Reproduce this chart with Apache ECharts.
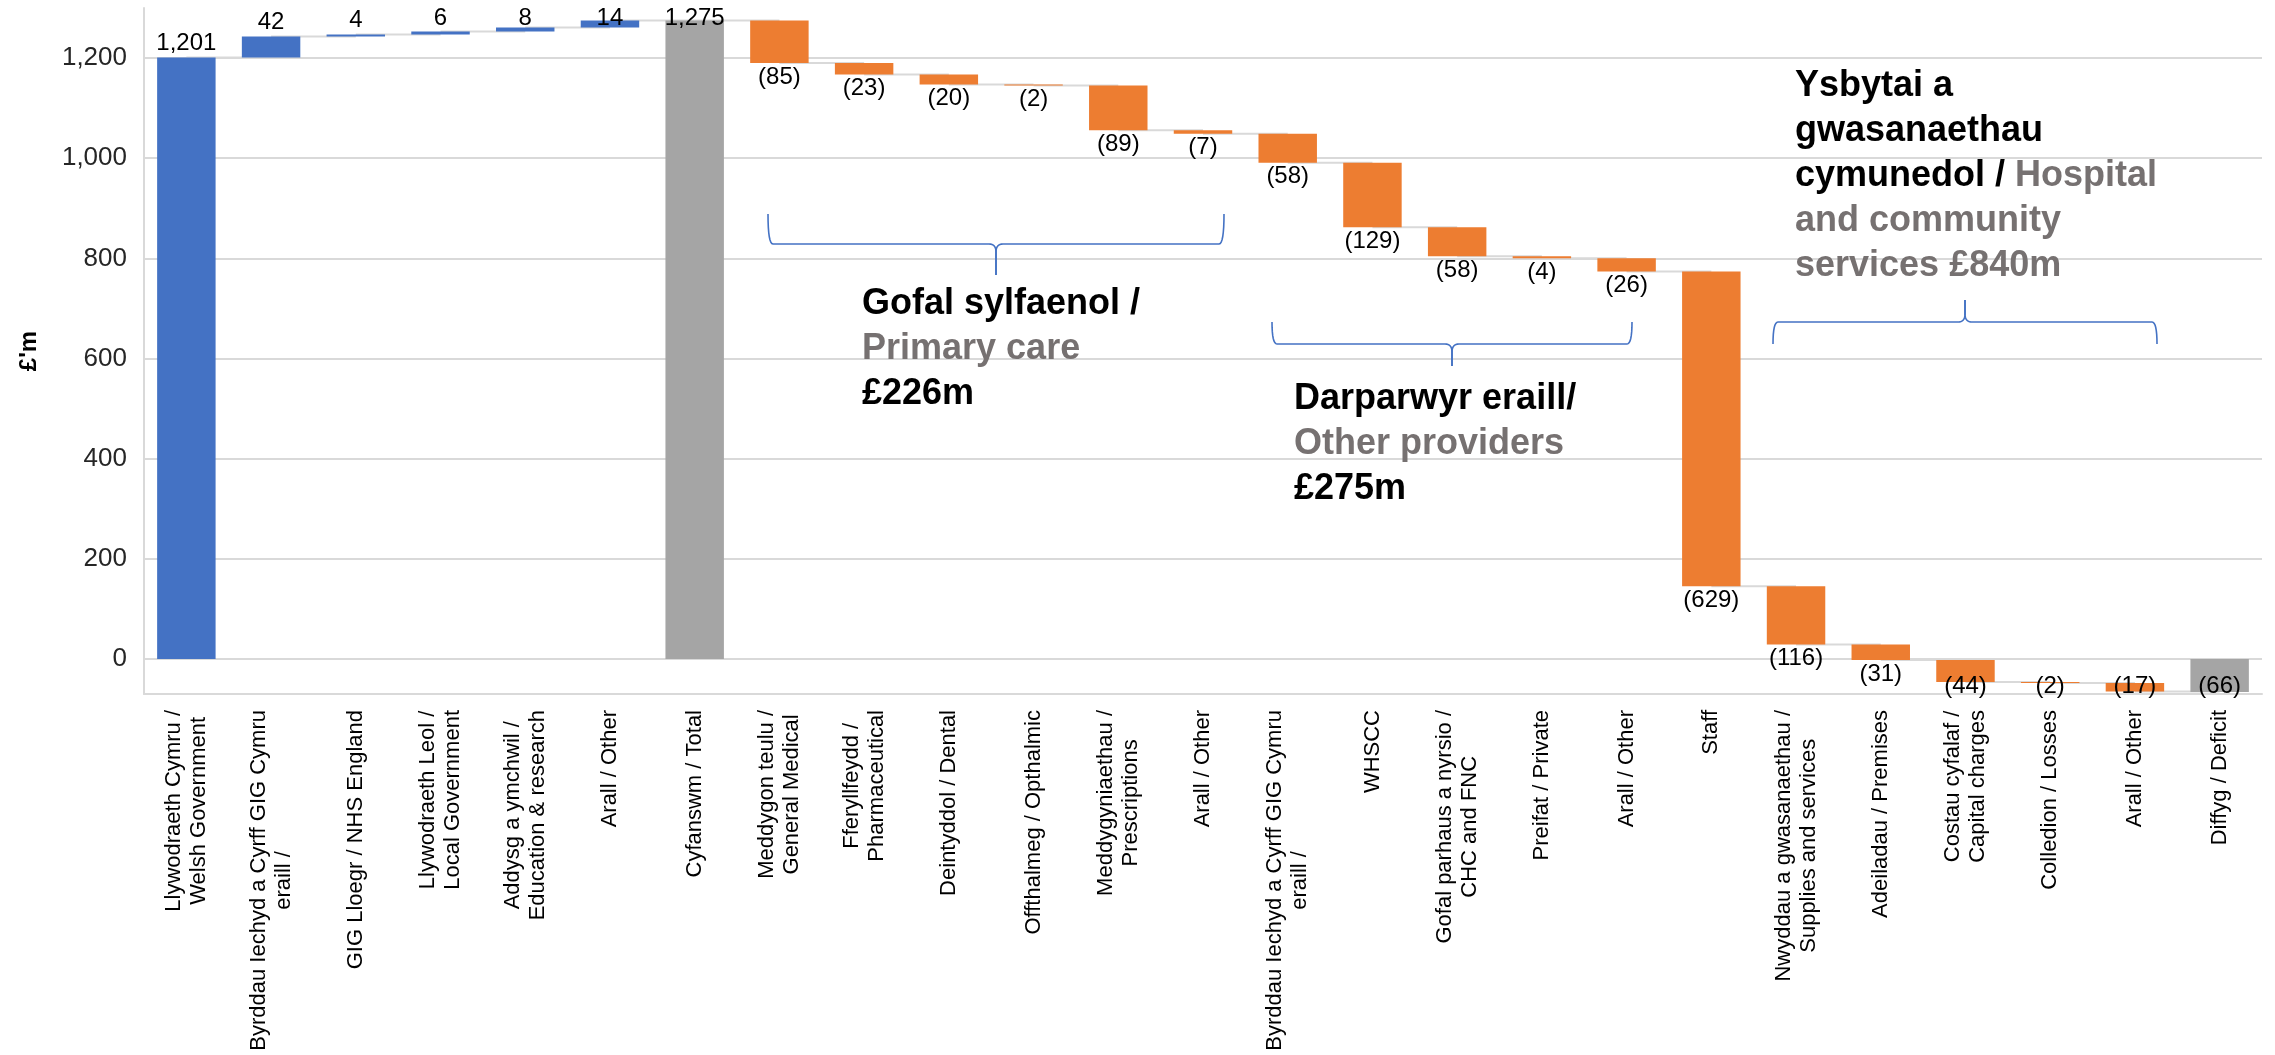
<!DOCTYPE html>
<html>
<head>
<meta charset="utf-8">
<title>Waterfall</title>
<script src="https://cdn.jsdelivr.net/npm/echarts@6/dist/echarts.min.js"></script>
<style>
    html, body { margin: 0; padding: 0; background: #fff; }
    #chart { width: 2275px; height: 1055px; }
</style>
</head>
<body>
<div id="chart"></div>
<script>
const categories = [
    'Llywodraeth Cymru /\nWelsh Government',
    'Byrddau Iechyd a Cyrff GIG Cymru\neraill /',
    'GIG Lloegr / NHS England',
    'Llywodraeth Leol /\nLocal Government',
    'Addysg a ymchwil /\nEducation & research',
    'Arall / Other',
    'Cyfanswm / Total',
    'Meddygon teulu /\nGeneral Medical',
    'Fferyllfeydd /\nPharmaceutical',
    'Deintyddol / Dental',
    'Offthalmeg / Opthalmic',
    'Meddygyniaethau /\nPrescriptions',
    'Arall / Other',
    'Byrddau Iechyd a Cyrff GIG Cymru\neraill /',
    'WHSCC',
    'Gofal parhaus a nyrsio /\nCHC and FNC',
    'Preifat / Private',
    'Arall / Other',
    'Staff',
    'Nwyddau a gwasanaethau /\nSupplies and services',
    'Adeiladau / Premises',
    'Costau cyfalaf /\nCapital charges',
    'Colledion / Losses',
    'Arall / Other',
    'Diffyg / Deficit'
];
const values = [1201, 42, 4, 6, 8, 14, 1275, -85, -23, -20, -2, -89, -7,
    -58, -129, -58, -4, -26, -629, -116, -31, -44, -2, -17, -66];
// bars that start from zero (totals)
const totalIdx = [6, 24];
const yTicks = [0, 200, 400, 600, 800, 1000, 1200];

const BLUE = '#4472C4', ORANGE = '#ED7D31', GREY = '#A5A5A5';
const FONT = '"Liberation Sans", Arial, sans-serif';

// waterfall: invisible base + visible step
let running = 0;
const bases = [], steps = [], levels = [];
values.forEach(function (v, i) {
    if (totalIdx.indexOf(i) >= 0) {
        bases.push(0);
        running = v;
    } else {
        bases.push(running);
        running += v;
    }
    levels.push(running);
    steps.push({
        value: v,
        itemStyle: { color: totalIdx.indexOf(i) >= 0 ? GREY : (v >= 0 ? BLUE : ORANGE) },
        label: { position: v >= 0 ? 'top' : 'bottom' }
    });
});
const connectors = levels.slice(0, -1).map(function (lv, i) { return [i, lv]; });

function fmt(v) {
    return v < 0 ? '(' + Math.abs(v) + ')' : v.toLocaleString('en-US');
}

function quad(p0, c, p1, n) {
    const pts = [];
    for (let k = 1; k <= n; k++) {
        const t = k / n, u = 1 - t;
        pts.push([u * u * p0[0] + 2 * u * t * c[0] + t * t * p1[0],
                  u * u * p0[1] + 2 * u * t * c[1] + t * t * p1[1]]);
    }
    return pts;
}
// curly brace, two halves meeting at the tip
function brace(x0, x1, yEnd, yLine, yTip) {
    const xc = (x0 + x1) / 2, s = yTip > yLine ? 1 : -1;
    const half = function (xe, d) {
        let pts = [[xe, yEnd]];
        pts = pts.concat(quad([xe, yEnd], [xe, yLine], [xe + d * 5, yLine], 8));
        pts.push([xc - d * 7, yLine]);
        pts = pts.concat(quad([xc - d * 7, yLine], [xc, yLine], [xc, yLine + s * 8], 8));
        pts.push([xc, yTip]);
        return pts;
    };
    const st = { stroke: BLUE, lineWidth: 1.6, fill: null };
    return [
        { type: 'polyline', shape: { points: half(x0, 1) }, style: st, z: 50 },
        { type: 'polyline', shape: { points: half(x1, -1) }, style: st, z: 50 }
    ];
}

const noteRich = {
    b: { fontSize: 36, fontWeight: 'bold', fill: '#000', lineHeight: 45, fontFamily: FONT },
    g: { fontSize: 36, fontWeight: 'bold', fill: '#767171', lineHeight: 45, fontFamily: FONT }
};
function note(left, top, text) {
    return { type: 'text', left: left, top: top, z: 50,
        style: { text: text, rich: noteRich, fontFamily: FONT, fontSize: 36, lineHeight: 45 } };
}

const chart = echarts.init(document.getElementById('chart'));
const LABEL_TOP = 6, LABEL_BOTTOM = 698;

const option = {
    animation: false,
    textStyle: { fontFamily: FONT },
    grid: { left: 144, right: 13, top: 8, bottom: 361, containLabel: false, outerBoundsMode: 'none' },
    xAxis: {
        type: 'category',
        data: categories,
        axisLine: { show: true, onZero: false, lineStyle: { color: '#d9d9d9', width: 2 } },
        axisTick: { show: false },
        axisLabel: {
            interval: 0,
            rotate: 90,
            margin: 16,
            fontSize: 22,
            lineHeight: 25,
            color: '#000',
            formatter: function (val) {
                return val.split('\n').map(function (s) { return '{c|' + s + '}'; }).join('\n');
            },
            rich: { c: { align: 'center', fontSize: 22, lineHeight: 25, color: '#000', fontFamily: FONT } }
        }
    },
    yAxis: {
        type: 'value',
        min: -70,
        max: 1300,
        name: "£'m",
        nameLocation: 'middle',
        nameGap: 103,
        nameTextStyle: { fontSize: 24, fontWeight: 'bold', color: '#000' },
        axisLine: { show: true, lineStyle: { color: '#d9d9d9', width: 2 } },
        axisTick: { show: false },
        splitLine: { show: false },
        axisLabel: {
            customValues: yTicks,
            margin: 17,
            fontSize: 26,
            color: '#262626',
            formatter: function (v) { return v.toLocaleString('en-US'); }
        }
    },
    series: [
        {
            type: 'custom',
            z: 1,
            silent: true,
            data: connectors,
            renderItem: function (params, api) {
                const i = api.value(0), lv = api.value(1);
                const p0 = api.coord([i, lv]), p1 = api.coord([i + 1, lv]);
                return { type: 'line', shape: { x1: p0[0], y1: p0[1], x2: p1[0], y2: p1[1] },
                    style: { stroke: '#d9d9d9', lineWidth: 2 } };
            }
        },
        {
            type: 'bar',
            stack: 'wf',
            stackStrategy: 'all',
            silent: true,
            z: 2,
            barCategoryGap: '31%',
            itemStyle: { color: 'transparent' },
            data: bases,
            markLine: {
                silent: true,
                z: 1,
                symbol: 'none',
                label: { show: false },
                lineStyle: { color: '#d9d9d9', width: 2, type: 'solid' },
                data: yTicks.map(function (v) { return { yAxis: v }; })
            }
        },
        {
            type: 'bar',
            stack: 'wf',
            stackStrategy: 'all',
            z: 2,
            barCategoryGap: '31%',
            data: steps,
            label: {
                show: true,
                distance: 2,
                fontSize: 24,
                color: '#000',
                formatter: function (p) { return fmt(values[p.dataIndex]); }
            },
            labelLayout: function (p) {
                const r = p.labelRect;
                let y = Math.max(r.y, LABEL_TOP);
                y = Math.min(y, LABEL_BOTTOM - r.height);
                return { x: r.x + r.width / 2, y: y, align: 'center', verticalAlign: 'top' };
            }
        }
    ],
    graphic: [].concat(
        brace(768, 1224, 214, 244, 275),
        brace(1272, 1632, 322, 344, 366),
        brace(1773, 2157, 344, 322, 300),
        [
            note(862, 282, '{b|Gofal sylfaenol /}\n{g|Primary care}\n{b|£226m}'),
            note(1294, 377, '{b|Darparwyr eraill/}\n{g|Other providers}\n{b|£275m}'),
            note(1795, 64, '{b|Ysbytai a}\n{b|gwasanaethau}\n{b|cymunedol / }{g|Hospital}\n{g|and community}\n{g|services £840m}')
        ]
    )
};
chart.setOption(option);
</script>
</body>
</html>
